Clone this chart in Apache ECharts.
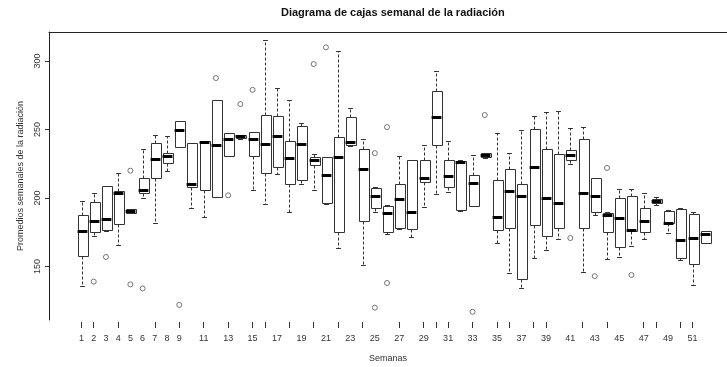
<!DOCTYPE html>
<html>
<head>
<meta charset="utf-8">
<script src="https://cdn.jsdelivr.net/npm/echarts@6/dist/echarts.min.js"></script>
<style>
  html, body { margin: 0; padding: 0; background: #fff; }
  #chart { width: 727px; height: 367px; }
</style>
</head>
<body>
<div id="chart"></div>
<script>
// Weekly radiation averages: five-number summary per week of the year
const weeks = [1,2,3,4,5,6,7,8,9,10,11,12,13,14,15,16,17,18,19,20,21,22,23,24,25,26,
               27,28,29,30,31,32,33,34,35,36,37,38,39,40,41,42,43,44,45,46,47,48,49,50,51,52];
const whiskerLow = [136,172,176,166,189,200,182,220,237,193,186,201,230.7,243,206,196,217.7,190,210,205.8,196,163.5,238,151,190,174,
                    177.4,171.5,193.4,203,204.4,190.5,194,229,167,145,134,156,162,170,225,146,187.6,155.5,157,165,170,195,174.5,154.7,136.5,167];
const q1 = [158,175,177,181,189,204,215,225.5,237,208,206,201,230.7,244,231,218,222.6,210,213,224,196.4,175.2,239,183.2,192.7,175.2,
            178,177.4,211.7,238.7,208,191,194.2,230,176.6,178,141,180.3,172,178,228,178,190,175.2,164,176,175,196.5,181.5,156,151.8,167];
const median = [176,183,185,204,190.5,206,228.5,230.5,249.6,210,241,239,243,245,243,239.4,245,229,239.4,227.7,216.8,230,241,221,201.5,189,
                199.3,189.8,215,259,216,226,211,231.4,186,205,201.5,222.6,200,196.4,231.4,203.6,201.5,188,185.4,176.6,183.2,197.8,182,169.3,170.8,173.7];
const q3 = [188,197,209,205,192,215,240,233,256,240,242,271.5,247.4,246,248,260.6,260,242,252.5,230,230,244.5,259,235.8,207.3,194.2,
            210,227.7,227.7,278,227.7,227,216.8,233,213,221,210,250.4,236,232,235,243,214.6,189,200,201.5,193,199,190.5,192,188.3,176];
const whiskerHigh = [198,204,209,218,192,236,246,245,256,240,242,271.5,247.4,246,248,315,280,271.5,254.7,232,230,307.5,265.7,243,208,195,
                     230.7,228,238.7,292.7,241.6,228,231.4,233,247.4,232.8,250,260,263,263.5,251,251.8,215,190,206.6,206.6,203.6,201,191,193,189.8,176];

// Points beyond the whiskers
const outlierWeeks  = [2,3,5,5,6,9,12,13,14,15,20,21,25,25,26,26,33,34,41,43,44,46];
const outlierValues = [139,157,220,137,134,122,287.6,202,268.6,279,297.8,310,232.8,120,251.8,138,117,260.6,170.8,143,222,143.8];

// Axis annotations
const labelWeeks = [1,2,3,4,5,6,7,8,9,11,13,15,17,19,21,23,25,27,29,31,33,35,37,39,41,43,45,47,49,51];
const tickWeeks  = [1,2,4,7,9,11,13,15,16,18,20,22,24,27,29,30,31,33,35,36,38,39,42,44,47,48,50,51];
const yTicks = [150,200,250,300];

const boxData = weeks.map((w, i) => [w, whiskerLow[i], q1[i], median[i], q3[i], whiskerHigh[i]]);
const outlierData = outlierWeeks.map((w, i) => [w, outlierValues[i]]);

const FONT = 'Liberation Sans, Arial, sans-serif';
const INK = '#333';

function renderBox(params, api) {
  const w = api.value(0);
  const lo = api.value(1), a = api.value(2), m = api.value(3), b = api.value(4), hi = api.value(5);
  const cx = Math.round(api.coord([w, m])[0]) + 0.5;
  const unit = api.size([1, 0])[0];
  const hw = unit * 0.4;
  const sw = unit * 0.2;
  const y = v => Math.round(api.coord([w, v])[1]) + 0.5;
  const kids = [];
  if (hi > b) {
    kids.push({ type: 'line', shape: { x1: cx, y1: y(b), x2: cx, y2: y(hi) },
                style: { stroke: INK, lineWidth: 1, lineDash: [3, 2] } });
    kids.push({ type: 'line', shape: { x1: cx - sw, y1: y(hi), x2: cx + sw, y2: y(hi) },
                style: { stroke: INK, lineWidth: 1 } });
  }
  if (lo < a) {
    kids.push({ type: 'line', shape: { x1: cx, y1: y(a), x2: cx, y2: y(lo) },
                style: { stroke: INK, lineWidth: 1, lineDash: [3, 2] } });
    kids.push({ type: 'line', shape: { x1: cx - sw, y1: y(lo), x2: cx + sw, y2: y(lo) },
                style: { stroke: INK, lineWidth: 1 } });
  }
  kids.push({ type: 'rect',
              shape: { x: Math.round(cx - hw) + 0.5, y: y(b), width: Math.round(2 * hw), height: y(a) - y(b) },
              style: { fill: '#fff', stroke: INK, lineWidth: 1 } });
  kids.push({ type: 'line', shape: { x1: cx - hw, y1: y(m), x2: cx + hw, y2: y(m) },
              style: { stroke: '#000', lineWidth: 3 } });
  return { type: 'group', children: kids };
}

const chart = echarts.init(document.getElementById('chart'), null, { renderer: 'canvas' });
chart.setOption({
  animation: false,
  backgroundColor: '#fff',
  title: {
    text: 'Diagrama de cajas semanal de la radiación',
    left: 281, top: 7, padding: 0,
    textStyle: { fontFamily: FONT, fontSize: 11, fontWeight: 'bold', color: '#111' }
  },
  grid: { left: 49, right: 0, top: 32, bottom: 47, containLabel: false, outerBoundsMode: 'none' },
  xAxis: [{
    type: 'value', min: -1.66, max: 53.82, offset: 2,
    axisLine: { show: false, onZero: false },
    splitLine: { show: false },
    axisTick: { show: true, customValues: tickWeeks, length: 6, lineStyle: { color: INK, width: 1 } },
    axisLabel: { customValues: labelWeeks, margin: 12, fontFamily: FONT, fontSize: 9, color: '#333' },
    name: 'Semanas', nameLocation: 'middle', nameGap: 32,
    nameTextStyle: { fontFamily: FONT, fontSize: 9, color: '#333' }
  }, {
    type: 'value', min: -1.66, max: 53.82, position: 'top',
    axisLine: { show: true, onZero: false, lineStyle: { color: '#222', width: 1 } },
    axisTick: { show: false }, axisLabel: { show: false }, splitLine: { show: false }
  }],
  yAxis: {
    type: 'value', min: 111, max: 321.2,
    axisLine: { show: true, onZero: false, lineStyle: { color: '#222', width: 1 } },
    splitLine: { show: false },
    axisTick: { show: true, customValues: yTicks, length: 4, lineStyle: { color: INK } },
    axisLabel: { customValues: yTicks, rotate: 90, margin: 7, fontFamily: FONT, fontSize: 9, color: '#333' },
    name: 'Promedios semanales de la radiación', nameLocation: 'middle', nameGap: 24,
    nameTextStyle: { fontFamily: FONT, fontSize: 9, color: '#333' }
  },
  series: [{
    type: 'custom',
    renderItem: renderBox,
    encode: { x: 0, y: [1, 2, 3, 4, 5] },
    data: boxData,
    clip: false
  }, {
    type: 'scatter',
    data: outlierData,
    symbol: 'circle', symbolSize: 5,
    itemStyle: { color: 'rgba(0,0,0,0)', borderColor: '#555', borderWidth: 1 }
  }]
});
</script>
</body>
</html>
